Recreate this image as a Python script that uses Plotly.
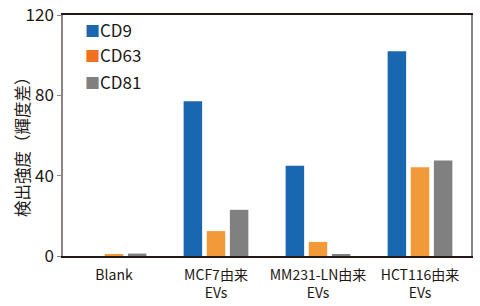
import plotly.graph_objects as go

categories = ["Blank", "MCF7由来<br>EVs", "MM231-LN由来<br>EVs", "HCT116由来<br>EVs"]
series_names = ["CD9", "CD63", "CD81"]
cd9 = [0, 77, 45, 102]
cd63 = [0.6, 12.4, 7, 44.2]
cd81 = [1.2, 23, 1, 47.5]
colors = ["#1a67b1", "#f29a3a", "#808080"]
legend_colors = ["#1a67b1", "#ee7020", "#808080"]
y_ticks = [0, 40, 80, 120]
y_title = "検出強度（輝度差）"

font_family = "Noto Sans CJK JP"
txt = "#231815"

fig = go.Figure()
for name, vals, c in zip(series_names, [cd9, cd63, cd81], colors):
    fig.add_trace(go.Bar(x=categories, y=vals, name=name, marker=dict(color=c, line=dict(width=0))))

# manual legend
for i, (name, c) in enumerate(zip(series_names, legend_colors)):
    fig.add_annotation(
        xref="paper", yref="paper", x=0.05, y=1 - (14 + 26 * i) / 241,
        xanchor="left", yanchor="middle", showarrow=False,
        text=f"<span style='color:{c};font-size:15px'>■</span>{name}",
        font=dict(size=17, family=font_family, color=txt),
    )

# y-axis title
fig.add_annotation(
    xref="paper", yref="paper", x=-0.1, y=0.47, xanchor="center", yanchor="middle",
    showarrow=False, textangle=-90, text=y_title,
    font=dict(size=16.5, family=font_family, color=txt),
)

fig.update_layout(
    width=480, height=306,
    margin=dict(l=63, r=9, t=15, b=50),
    paper_bgcolor="white", plot_bgcolor="white",
    barmode="group", bargap=0.32, bargroupgap=0.2,
    font=dict(family=font_family, color=txt),
    showlegend=False,
)
fig.update_xaxes(
    showline=True, linecolor=txt, linewidth=1.5, mirror=True,
    ticks="", tickfont=dict(size=14, family=font_family, color=txt),
    ticklabelstandoff=5,
    range=[-0.5, 3.5], automargin=False,
)
fig.update_yaxes(
    range=[0, 120], tickvals=y_ticks, showgrid=False, zeroline=False,
    showline=True, linecolor="#8a8582", linewidth=1.5, mirror=True,
    ticks="outside", ticklen=4, tickcolor="#8a8582",
    tickfont=dict(size=17, family=font_family, color=txt),
    automargin=False,
)
fig.write_html("out.html", config={"displayModeBar": False},
               post_script="document.body.style.margin='0';")
